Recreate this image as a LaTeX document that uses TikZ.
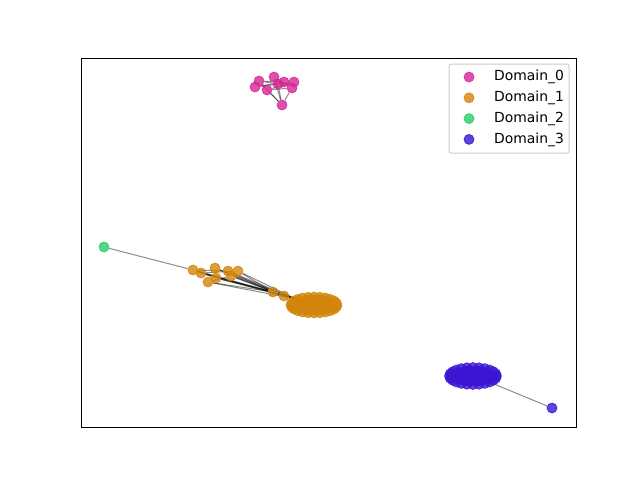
\documentclass[tikz,border=0pt]{standalone}
\usepackage{fontspec}
\setmainfont{DejaVu Sans}
\usetikzlibrary{backgrounds}
\definecolor{pinkc}{RGB}{214,36,150}
\definecolor{orangec}{RGB}{211,132,10}
\definecolor{greenc}{RGB}{40,204,105}
\definecolor{bluec}{RGB}{58,20,210}
\tikzset{
  mk/.style={circle,inner sep=0pt,minimum size=10pt,fill=#1,draw=#1,fill opacity=0.8,draw opacity=0.8,line width=0.8pt},
  lnk/.style={draw=black,draw opacity=0.45,line width=1pt},
}
\begin{document}
\begin{tikzpicture}[x=1pt,y=-1pt]
\useasboundingbox (0,0) rectangle (640,480);
% Domain_0
\node[mk=pinkc] (p0) at (255,87) {};
\node[mk=pinkc] (p1) at (259,81) {};
\node[mk=pinkc] (p2) at (267,90) {};
\node[mk=pinkc] (p3) at (274,77) {};
\node[mk=pinkc] (p4) at (278,84) {};
\node[mk=pinkc] (p5) at (284,82) {};
\node[mk=pinkc] (p6) at (294,82) {};
\node[mk=pinkc] (p7) at (292,88) {};
\node[mk=pinkc] (p8) at (282,105) {};
% Domain_1, small group
\node[mk=orangec] (o0) at (193,270) {};
\node[mk=orangec] (o1) at (201,273) {};
\node[mk=orangec] (o2) at (215,268) {};
\node[mk=orangec] (o3) at (228,271) {};
\node[mk=orangec] (o4) at (238,271) {};
\node[mk=orangec] (o5) at (208,282) {};
\node[mk=orangec] (o6) at (216,278) {};
\node[mk=orangec] (o7) at (231,276) {};
\node[mk=orangec] (o8) at (273,292) {};
\node[mk=orangec] (o9) at (284,296) {};
% Domain_1, dense group
\foreach \a in {0,15,...,345}{
  \node[mk=orangec] at ({314+23*cos(\a)},{305+8*sin(\a)}) {};
  \node[mk=orangec] at ({314+15*cos(\a+7)},{305+5*sin(\a+7)}) {};
  \node[mk=orangec] at ({314+7*cos(\a)},{305+2*sin(\a)}) {};
}
\node[mk=orangec] (ob) at (314,305) {};
\coordinate (obl) at (296,299);
% Domain_2
\node[mk=greenc] (g0) at (104,247) {};
% Domain_3
\foreach \a in {0,15,...,345}{
  \node[mk=bluec] at ({473+23.5*cos(\a)},{376+8.5*sin(\a)}) {};
  \node[mk=bluec] at ({473+15*cos(\a+7)},{376+5*sin(\a+7)}) {};
  \node[mk=bluec] at ({473+7*cos(\a)},{376+2*sin(\a)}) {};
}
\node[mk=bluec] (bb) at (473,376) {};
\coordinate (bbr) at (494,384);
\node[mk=bluec] (b1) at (552,408) {};
% links
\begin{scope}[on background layer]
\foreach \u/\v in {p8/p2,p8/p4,p8/p3,p8/p7,p8/p1,p0/p6,p1/p5,p2/p7,p3/p4,p1/p4,p0/p5,p2/p6,p3/p7}
  \draw[lnk] (\u) -- (\v);
\foreach \u in {o0,o1,o2,o3,o4,o5,o6,o7}{
  \draw[lnk] (\u) -- (o8);
  \draw[lnk] (\u) -- (obl);
}
\foreach \u/\v in {o0/o3,o1/o4,o2/o6,o5/o7,o0/o6}
  \draw[lnk] (\u) -- (\v);
\draw[lnk] (o8) -- (o9);
\draw[lnk] (g0) -- (o0);
\draw[lnk] (bbr) -- (b1);
\end{scope}
% frame
\draw[line width=1pt] (81,58) rectangle (576,427);
% legend
\node[draw=black!20,fill=white,fill opacity=0.8,text opacity=1,rounded corners=2pt,line width=1pt,minimum width=120pt,minimum height=89pt] (key) at (509,108.5) {};
\foreach \c/\t [count=\i from 0] in {pinkc/Domain\_0,orangec/Domain\_1,greenc/Domain\_2,bluec/Domain\_3}{
  \node[mk=\c] (k\i) at (469,{77+20.8*\i}) {};
  \node[anchor=west,font=\fontsize{13.9}{16}\selectfont,inner sep=0pt] (t\i) at (494,{77+20.8*\i}) {\t};
}
\end{tikzpicture}
\end{document}
